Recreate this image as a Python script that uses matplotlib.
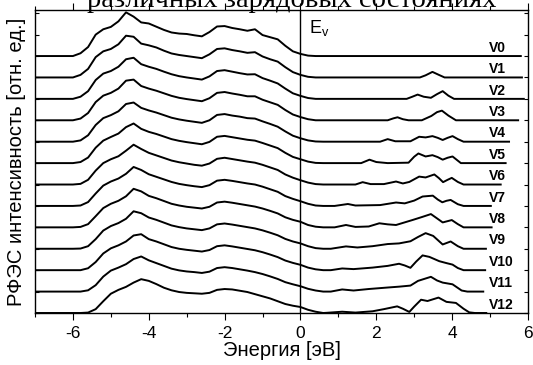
import matplotlib
matplotlib.use('Agg')
import matplotlib.pyplot as plt
import numpy as np

# Valence band part, common energy grid (eV)
vb_energy = [-6.2, -6.0, -5.8, -5.6, -5.4, -5.2, -5.0, -4.8, -4.6, -4.4, -4.2, -4.0,
             -3.8, -3.6, -3.4, -3.2, -3.0, -2.8, -2.6, -2.4, -2.2, -2.0, -1.8, -1.6,
             -1.4, -1.2, -1.0, -0.8, -0.6, -0.4, -0.2, 0.0, 0.2, 0.4, 0.6]

vb_intensity = [
    [0, 0, 0.13, 0.42, 1.00, 1.25, 1.36, 1.62, 2.04, 1.84, 1.57, 1.52, 1.37, 1.22, 1.10, 1.05, 1.03, 0.97, 0.92, 1.12, 1.38, 1.40, 1.31, 1.25, 1.18, 1.25, 0.98, 0.88, 0.78, 0.48, 0.22, 0.10, 0.02, 0, 0],
    [0, 0, 0.12, 0.40, 0.95, 1.22, 1.33, 1.55, 1.95, 1.90, 1.58, 1.50, 1.40, 1.25, 1.12, 1.05, 1.00, 0.95, 0.90, 1.08, 1.33, 1.36, 1.28, 1.22, 1.15, 1.18, 0.98, 0.85, 0.74, 0.48, 0.25, 0.12, 0.03, 0, 0],
    [0, 0, 0.10, 0.36, 0.88, 1.18, 1.30, 1.50, 1.85, 1.92, 1.62, 1.50, 1.40, 1.27, 1.15, 1.06, 1.00, 0.95, 0.90, 1.05, 1.30, 1.34, 1.27, 1.20, 1.14, 1.15, 0.97, 0.85, 0.72, 0.48, 0.26, 0.14, 0.04, 0, 0],
    [0, 0, 0.08, 0.34, 0.85, 1.15, 1.28, 1.48, 1.85, 1.90, 1.60, 1.48, 1.38, 1.26, 1.14, 1.05, 0.99, 0.94, 0.89, 1.03, 1.28, 1.32, 1.25, 1.19, 1.12, 1.12, 0.96, 0.84, 0.72, 0.48, 0.27, 0.15, 0.05, 0, 0],
    [0, 0, 0.06, 0.30, 0.78, 1.10, 1.24, 1.42, 1.76, 1.83, 1.58, 1.46, 1.36, 1.24, 1.12, 1.04, 0.98, 0.93, 0.88, 1.00, 1.25, 1.29, 1.22, 1.17, 1.10, 1.08, 0.95, 0.83, 0.70, 0.48, 0.28, 0.16, 0.06, 0.01, 0],
    [0, 0, 0.05, 0.26, 0.72, 1.05, 1.22, 1.38, 1.68, 1.85, 1.60, 1.46, 1.36, 1.24, 1.12, 1.04, 0.98, 0.93, 0.88, 0.99, 1.23, 1.27, 1.21, 1.15, 1.09, 1.05, 0.94, 0.82, 0.70, 0.48, 0.29, 0.18, 0.07, 0.01, 0],
    [0, 0, 0.03, 0.22, 0.65, 1.00, 1.18, 1.32, 1.58, 1.86, 1.66, 1.48, 1.36, 1.24, 1.12, 1.04, 0.98, 0.92, 0.88, 0.98, 1.20, 1.25, 1.19, 1.13, 1.07, 1.02, 0.92, 0.80, 0.68, 0.47, 0.32, 0.20, 0.09, 0.02, 0],
    [0, 0, 0.02, 0.18, 0.58, 0.95, 1.14, 1.28, 1.50, 1.82, 1.68, 1.48, 1.36, 1.24, 1.12, 1.03, 0.97, 0.92, 0.88, 0.97, 1.18, 1.22, 1.17, 1.11, 1.05, 1.00, 0.90, 0.78, 0.66, 0.46, 0.33, 0.22, 0.10, 0.02, 0],
    [0, 0, 0.02, 0.15, 0.52, 0.90, 1.10, 1.24, 1.45, 1.80, 1.68, 1.47, 1.36, 1.23, 1.10, 1.02, 0.96, 0.92, 0.88, 0.96, 1.16, 1.20, 1.15, 1.09, 1.03, 0.97, 0.88, 0.77, 0.65, 0.47, 0.35, 0.26, 0.11, 0.03, 0],
    [0, 0, 0.01, 0.12, 0.45, 0.85, 1.06, 1.20, 1.40, 1.75, 1.66, 1.46, 1.35, 1.22, 1.09, 1.01, 0.95, 0.91, 0.87, 0.95, 1.14, 1.18, 1.13, 1.07, 1.01, 0.95, 0.86, 0.75, 0.63, 0.46, 0.34, 0.25, 0.12, 0.03, 0],
    [0, 0, 0, 0.09, 0.38, 0.78, 1.02, 1.16, 1.34, 1.62, 1.68, 1.45, 1.34, 1.21, 1.08, 1.00, 0.95, 0.91, 0.87, 0.94, 1.12, 1.16, 1.11, 1.05, 0.99, 0.93, 0.84, 0.73, 0.61, 0.45, 0.34, 0.25, 0.12, 0.04, 0],
    [0, 0, 0, 0.06, 0.30, 0.70, 0.98, 1.12, 1.28, 1.52, 1.64, 1.46, 1.33, 1.20, 1.07, 0.99, 0.94, 0.91, 0.87, 0.93, 1.10, 1.14, 1.10, 1.04, 0.98, 0.91, 0.82, 0.71, 0.59, 0.44, 0.34, 0.25, 0.13, 0.05, 0],
    [0, 0, 0, 0.02, 0.18, 0.55, 0.90, 1.08, 1.22, 1.42, 1.58, 1.50, 1.35, 1.18, 1.06, 0.98, 0.94, 0.92, 0.90, 0.94, 1.08, 1.12, 1.10, 1.04, 0.98, 0.88, 0.78, 0.68, 0.55, 0.42, 0.34, 0.28, 0.15, 0.06, 0],
]

# Gap states, read node by node for each charge state
gap_energy = [
    [],
    [3.15, 3.3, 3.48, 3.65, 3.8],
    [2.8, 2.95, 3.09, 3.25, 3.44, 3.6, 3.75, 3.9, 4.05],
    [2.3, 2.45, 2.56, 2.7, 2.85, 3.2, 3.45, 3.6, 3.73, 3.9, 4.1],
    [2.1, 2.3, 2.5, 2.9, 3.13, 3.3, 3.48, 3.62, 3.75, 3.88, 4.01, 4.15, 4.3],
    [1.6, 1.82, 2.0, 2.3, 2.85, 3.0, 3.11, 3.3, 3.48, 3.62, 3.75, 3.88, 4.01, 4.23],
    [1.45, 1.64, 1.85, 2.2, 2.52, 2.7, 2.87, 3.13, 3.3, 3.53, 3.65, 3.76, 3.88, 3.99, 4.15, 4.3],
    [0.9, 1.25, 1.45, 2.1, 2.52, 2.75, 3.0, 3.22, 3.49, 3.62, 3.74, 3.85, 3.96, 4.15, 4.3],
    [0.9, 1.2, 1.45, 1.8, 2.08, 2.3, 2.52, 2.95, 3.2, 3.44, 3.6, 3.75, 3.99, 4.15, 4.3],
    [0.8, 1.2, 1.5, 1.9, 2.3, 2.6, 2.9, 3.1, 3.3, 3.5, 3.75, 3.96, 4.15, 4.3],
    [0.8, 1.1, 1.4, 1.9, 2.3, 2.6, 2.75, 2.9, 3.05, 3.22, 3.4, 3.66, 3.85, 4.01, 4.15, 4.3],
    [0.8, 1.1, 1.4, 1.8, 2.3, 2.6, 2.9, 3.1, 3.44, 3.6, 3.75, 4.01, 4.25, 4.4],
    [0.7, 1.1, 1.45, 1.9, 2.2, 2.55, 2.7, 2.87, 3.0, 3.18, 3.35, 3.64, 3.85, 4.1, 4.3, 4.45, 4.6],
]
gap_intensity = [
    [],
    [0, 0.10, 0.26, 0.12, 0],
    [0, 0.10, 0.20, 0.10, 0.05, 0.22, 0.36, 0.15, 0],
    [0, 0.09, 0.14, 0.05, 0, 0, 0.20, 0.38, 0.45, 0.22, 0],
    [0, 0.12, 0.02, 0.02, 0.23, 0.20, 0.26, 0.18, 0.08, 0.18, 0.26, 0.12, 0],
    [0, 0.16, 0.05, 0, 0.02, 0.30, 0.45, 0.31, 0.37, 0.28, 0.16, 0.25, 0.31, 0],
    [0, 0.11, 0.02, 0.02, 0.14, 0.05, 0.12, 0.37, 0.33, 0.47, 0.30, 0.11, 0.22, 0.31, 0.12, 0],
    [0, 0.09, 0.02, 0.04, 0.16, 0.12, 0.25, 0.44, 0.48, 0.30, 0.17, 0.24, 0.28, 0.08, 0],
    [0, 0.11, 0.02, 0.04, 0.19, 0.14, 0.11, 0.34, 0.48, 0.62, 0.42, 0.23, 0.34, 0.15, 0],
    [0, 0.11, 0.06, 0.12, 0.22, 0.25, 0.35, 0.55, 0.73, 0.60, 0.20, 0.34, 0.12, 0],
    [0, 0.08, 0.05, 0.12, 0.20, 0.30, 0.22, 0.11, 0.40, 0.69, 0.62, 0.42, 0.33, 0.26, 0.10, 0],
    [0, 0.10, 0.05, 0.12, 0.19, 0.23, 0.28, 0.50, 0.69, 0.52, 0.42, 0.34, 0.05, 0],
    [0.01, 0.06, 0.02, 0.08, 0.18, 0.31, 0.20, 0.05, 0.30, 0.62, 0.56, 0.72, 0.52, 0.47, 0.20, 0.03, 0],
]

# Right end of each trace
trace_end = [5.81, 5.84, 5.89, 5.74, 5.50, 5.41, 5.28, 5.02, 5.04, 4.89, 4.87, 4.82, 4.90]
labels = ['V{}'.format(i) for i in range(13)]


if __name__ == '__main__':

    plt.rcParams['font.family'] = ['Liberation Sans', 'DejaVu Sans']
    plt.rcParams['mathtext.default'] = 'regular'
    plt.rcParams['axes.unicode_minus'] = False

    fig = plt.figure(figsize=(5.33, 3.65), dpi=100)
    ax = fig.add_axes([35 / 533, 52 / 365, 493 / 533, 303 / 365])

    n = len(labels)
    for i in range(n):
        offset = n - 1 - i
        x = [-7.0] + vb_energy + gap_energy[i] + [trace_end[i]]
        y = [0] + vb_intensity[i] + gap_intensity[i] + [0]
        ax.plot(x, np.array(y) + offset, color='black', lw=1.4,
                solid_joinstyle='round')
        ax.text(4.97, offset + 0.06, labels[i], fontsize=10,
                fontweight='bold', ha='left', va='bottom')

    ax.axvline(0, color='black', lw=1.0)
    ax.text(0.22, 12.85, 'E$_v$', fontsize=13, ha='left', va='bottom')

    ax.set_xlim(-7, 6)
    ax.set_ylim(0, 14.15)
    ax.set_xticks(np.arange(-6, 7, 2))
    ax.set_xticks(np.arange(-7, 7, 1), minor=True)
    ax.set_yticks(np.arange(0, 15, 1))
    ax.set_yticklabels([])
    ax.tick_params(axis='x', which='major', direction='out', length=5,
                   labelsize=12.5, top=True, width=0.8, pad=4)
    ax.tick_params(axis='x', which='minor', direction='out', length=3,
                   top=True, width=0.8)
    ax.tick_params(axis='y', direction='in', length=3, right=True, width=0.8)
    for spine in ax.spines.values():
        spine.set_linewidth(1.0)

    ax.set_xlabel('Энергия [эВ]', fontsize=14.5, labelpad=0)
    ax.set_ylabel('РФЭС интенсивность [отн. ед.]', fontsize=14.5, labelpad=3)

    # Title line, cut off by the top of the image
    fig.text(0.548, 1 - 7 / 365, 'различных зарядовых состояниях',
             family='Liberation Serif', fontsize=20.5, ha='center',
             va='baseline')

    plt.savefig('out.png', dpi=100)
